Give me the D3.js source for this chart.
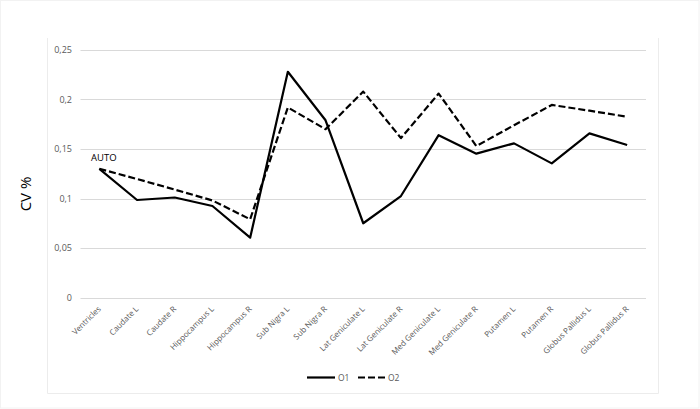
<!DOCTYPE html>
<html><head><meta charset="utf-8">
<script src="https://cdn.jsdelivr.net/npm/d3@7"></script>
<style>body{margin:0;background:#fff}svg{display:block}</style>
</head><body>
<script>
const categories = ["Ventricles","Caudate L","Caudate R","Hippocampus L","Hippocampus R","Sub Nigra L","Sub Nigra R","Lat Geniculate L","Lat Geniculate R","Med Geniculate L","Med Geniculate R","Putamen L","Putamen R","Globus Pallidus L","Globus Pallidus R"];
const o1 = [0.13,0.0985,0.101,0.0924,0.0604,0.228,0.179,0.075,0.1025,0.164,0.1453,0.1557,0.1355,0.1658,0.154];
const o2 = [0.13,0.1197,0.109,0.098,0.079,0.192,0.170,0.208,0.161,0.206,0.153,0.174,0.1945,0.1887,0.1826];
const yTicks = [0,0.05,0.1,0.15,0.2,0.25];
const yTickLabels = ["0","0,05","0,1","0,15","0,2","0,25"];
const seriesNames = ["O1","O2"];

const W=700,H=409;
const svg=d3.select("body").append("svg").attr("width",W).attr("height",H);
const font="'Open Sans', 'Liberation Sans', sans-serif";

// faint chart borders
svg.append("rect").attr("x",0.5).attr("y",0.5).attr("width",W-1.5).attr("height",H-1.5).attr("fill","none").attr("stroke","#f2f2f2");
svg.append("path").attr("d","M47.5,38V393.5H658.5V38").attr("fill","none").attr("stroke","#ececec");

const x=d3.scaleBand().domain(categories).range([80.5,646]);
const y=d3.scaleLinear().domain([0,0.25]).range([297.5,50]);

// gridlines
svg.append("g").selectAll("line").data(yTicks).join("line")
  .attr("x1",80.5).attr("x2",646).attr("y1",d=>Math.round(y(d))+0.5).attr("y2",d=>Math.round(y(d))+0.5)
  .attr("stroke","#d9d9d9").attr("stroke-width",1);

// y axis labels
const yAxis=d3.axisLeft(y).tickValues(yTicks).tickSize(0).tickPadding(8).tickFormat((d,i)=>yTickLabels[i]);
const gy=svg.append("g").attr("transform","translate(80,0)").call(yAxis);
gy.select(".domain").remove();
gy.selectAll("text").attr("font-family",font).attr("font-size",9).attr("fill","#595959");

// x axis labels
const xAxis=d3.axisBottom(x).tickSize(0).tickPadding(0);
const gx=svg.append("g").attr("transform","translate(0,297.5)").call(xAxis);
gx.select(".domain").remove();
gx.selectAll("text").attr("font-family",font).attr("font-size",8).attr("fill","#595959")
  .attr("text-anchor","end").attr("dy",0).attr("y",0)
  .attr("transform","translate(2,12) rotate(-45)");

// y title
svg.append("text").attr("transform","translate(31,194) rotate(-90)").attr("text-anchor","middle")
  .attr("font-family",font).attr("font-size",15).attr("fill","#000").text("CV %");

const line=d3.line().x((d,i)=>x(categories[i])+x.bandwidth()/2).y(d=>y(d));
svg.append("path").datum(o2).attr("d",line).attr("fill","none").attr("stroke","#000").attr("stroke-width",2.2).attr("stroke-dasharray","7,3").attr("stroke-linejoin","round");
svg.append("path").datum(o1).attr("d",line).attr("fill","none").attr("stroke","#000").attr("stroke-width",2.2).attr("stroke-linejoin","round");

// AUTO annotation
svg.append("text").attr("x",91).attr("y",161).attr("font-family",font).attr("font-size",9.5).attr("fill","#000").text("AUTO");

// legend
const lg=svg.append("g");
lg.append("line").attr("x1",307).attr("x2",335).attr("y1",377.5).attr("y2",377.5).attr("stroke","#000").attr("stroke-width",2.2);
lg.append("text").attr("x",338).attr("y",381).attr("font-family",font).attr("font-size",8.5).attr("fill","#595959").text(seriesNames[0]);
lg.append("line").attr("x1",358).attr("x2",385).attr("y1",377.5).attr("y2",377.5).attr("stroke","#000").attr("stroke-width",2.2).attr("stroke-dasharray","7,3");
lg.append("text").attr("x",388).attr("y",381).attr("font-family",font).attr("font-size",8.5).attr("fill","#595959").text(seriesNames[1]);
</script>
</body></html>
